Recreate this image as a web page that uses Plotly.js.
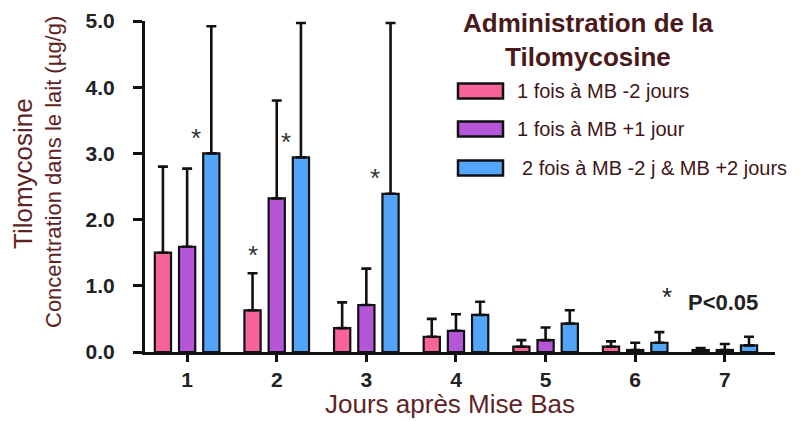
<!DOCTYPE html>
<html>
<head>
<meta charset="utf-8">
<script src="https://cdn.plot.ly/plotly-3.0.1.min.js"></script>
<style>html,body{margin:0;padding:0;background:#fff;}#chart{width:803px;height:421px;}</style>
</head>
<body>
<div id="chart"></div>
<script>
// ---- data ----
const days = [1, 2, 3, 4, 5, 6, 7];
const tickLabels = ['1', '2', '3', '4', '5', '6', '7'];
const seriesNames = ['1 fois à MB -2 jours', '1 fois à MB +1 jour', '2 fois à MB -2 j & MB +2 jours'];
const pinkValues   = [1.50, 0.63, 0.36, 0.23, 0.08, 0.08, 0.03];
const pinkErrors   = [1.30, 0.56, 0.39, 0.27, 0.10, 0.08, 0.03];
const purpleValues = [1.59, 2.32, 0.71, 0.32, 0.18, 0.03, 0.03];
const purpleErrors = [1.18, 1.48, 0.55, 0.25, 0.19, 0.11, 0.09];
const blueValues   = [3.00, 2.94, 2.39, 0.56, 0.43, 0.14, 0.10];
const blueErrors   = [1.92, 2.03, 2.58, 0.20, 0.20, 0.16, 0.13];
// significant differences (series index, day)
const sigSeries = [2, 0, 2, 2];
const sigDays   = [1, 2, 2, 3];
const yTicks = [0, 1, 2, 3, 4, 5];
const yTickLabels = ['0.0', '1.0', '2.0', '3.0', '4.0', '5.0'];

const colors = ['#f7639a', '#b555d8', '#52a5f8'];
const values = [pinkValues, purpleValues, blueValues];
const errors = [pinkErrors, purpleErrors, blueErrors];
const FONT = 'Liberation Sans, Arial, Helvetica, sans-serif';
const titleColor = '#5e2424';
const legendColor = '#3f1616';

const bargap = 0.19, nSeries = 3;
const slot = (1 - bargap) / nSeries;

const traces = values.map((v, i) => ({
  type: 'bar', name: seriesNames[i], x: days, y: v,
  marker: {color: colors[i], line: {color: '#111', width: 2.2}},
  error_y: {type: 'data', symmetric: false, array: errors[i], arrayminus: v.map(() => 0),
            color: '#111', thickness: 2.6, width: 5},
  showlegend: false, hoverinfo: 'skip'
}));

// geometry helpers (plot area in px)
const L = 145, R = 28, T = 21, B = 69, W = 803, H = 421;
const pw = W - L - R, ph = H - T - B;
const px = p => (p - L) / pw;
const py = p => (H - B - p) / ph;

const annotations = [];
// significance stars derived from bar data
sigSeries.forEach((s, k) => {
  const d = sigDays[k];
  const di = days.indexOf(d);
  const center = d + (s - 1) * slot;
  let x, y;
  if (s === 0) { x = center; y = values[s][di] + errors[s][di] + 0.33; }
  else { x = center - 0.17; y = values[s][di] + 0.30; }
  annotations.push({x: x, y: y, xref: 'x', yref: 'y', text: '*', showarrow: false,
    font: {family: FONT, size: 26, color: '#333'}, xanchor: 'center', yanchor: 'middle', yshift: -4});
});

// legend title
annotations.push({x: px(588), y: py(40), xref: 'paper', yref: 'paper', showarrow: false,
  text: '<b>Administration de la<br>Tilomycosine</b>', align: 'center',
  font: {family: FONT, size: 26, color: '#4a1a1a'}, xanchor: 'center', yanchor: 'middle'});
// legend items
const legTextX = [515, 515, 520];
const legY = [91, 129, 168];
const shapes = [];
seriesNames.forEach((n, i) => {
  shapes.push({type: 'rect', xref: 'paper', yref: 'paper',
    x0: px(458), x1: px(503), y0: py(legY[i] - 7.5), y1: py(legY[i] + 7.5),
    fillcolor: colors[i], line: {color: '#111', width: 2.5}});
  annotations.push({x: px(legTextX[i]), y: py(legY[i]), xref: 'paper', yref: 'paper', showarrow: false,
    text: n, font: {family: FONT, size: 20, color: legendColor}, xanchor: 'left', yanchor: 'middle'});
});
// P<0.05 note
annotations.push({x: px(667), y: py(293), xref: 'paper', yref: 'paper', showarrow: false, text: '*',
  font: {family: FONT, size: 26, color: '#222'}, xanchor: 'center', yanchor: 'middle', yshift: -4});
annotations.push({x: px(686), y: py(302), xref: 'paper', yref: 'paper', showarrow: false, text: '<b>P<0.05</b>',
  font: {family: FONT, size: 22, color: '#222'}, xanchor: 'left', yanchor: 'middle'});
// axis titles
annotations.push({x: px(23), y: py(174), xref: 'paper', yref: 'paper', showarrow: false, text: 'Tilomycosine',
  textangle: -90, font: {family: FONT, size: 26, color: titleColor}, xanchor: 'center', yanchor: 'middle'});
annotations.push({x: px(53), y: py(172), xref: 'paper', yref: 'paper', showarrow: false,
  text: 'Concentration dans le lait (µg/g)',
  textangle: -90, font: {family: FONT, size: 22, color: titleColor}, xanchor: 'center', yanchor: 'middle'});
annotations.push({x: px(450), y: py(404), xref: 'paper', yref: 'paper', showarrow: false,
  text: 'Jours après Mise Bas', font: {family: FONT, size: 26, color: titleColor}, xanchor: 'center', yanchor: 'middle'});

const layout = {
  width: W, height: H,
  margin: {l: L, r: R, t: T, b: B, pad: 0},
  paper_bgcolor: '#fff', plot_bgcolor: '#fff',
  barmode: 'group', bargap: bargap, bargroupgap: 0.33,
  font: {family: FONT},
  xaxis: {range: [0.53, 7.56], tickvals: days, ticktext: tickLabels, ticks: 'outside', ticklen: 7, tickwidth: 3,
          tickcolor: '#111', showline: true, linewidth: 3, linecolor: '#111', showgrid: false, zeroline: false,
          tickfont: {family: FONT, size: 21, color: '#222', weight: 'bold'}, fixedrange: true},
  yaxis: {range: [0, 5], tickvals: yTicks, ticktext: yTickLabels, ticks: 'outside', ticklen: 9, tickwidth: 3,
          tickcolor: '#111', showline: true, linewidth: 3, linecolor: '#111', showgrid: false, zeroline: false,
          tickfont: {family: FONT, size: 21, color: '#222', weight: 'bold'}, ticklabelstandoff: 14, fixedrange: true},
  annotations: annotations,
  shapes: shapes,
  showlegend: false
};

Plotly.newPlot('chart', traces, layout, {staticPlot: true, displayModeBar: false});
</script>
</body>
</html>
